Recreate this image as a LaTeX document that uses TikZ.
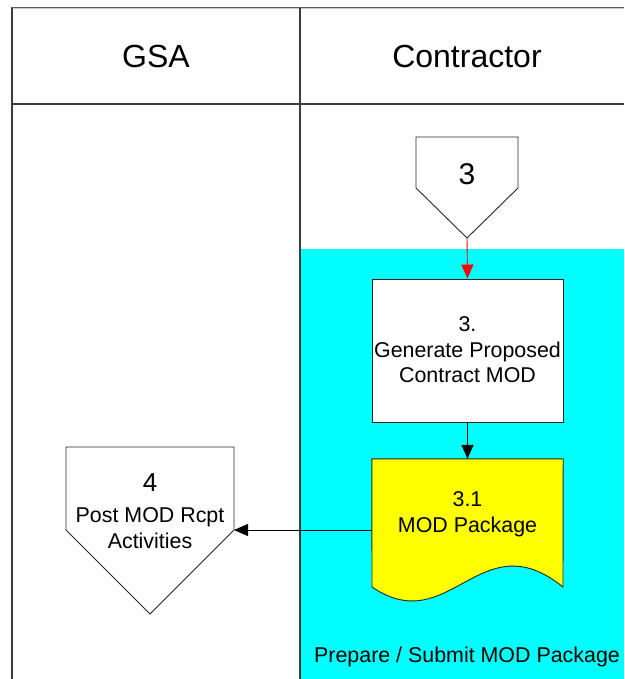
\documentclass[tikz,border=0pt]{standalone}
\usepackage{fontspec}
\setmainfont{Liberation Sans}
\usetikzlibrary{arrows.meta}
\definecolor{lanecyan}{RGB}{0,255,255}
\definecolor{docyellow}{RGB}{255,255,0}
\definecolor{frame}{RGB}{60,60,60}
\tikzset{
  shapeline/.style={draw=black!85, line width=0.9pt},
  frameline/.style={draw=frame, line width=1.8pt},
  hdr/.style={font=\fontsize{32}{38}\selectfont, inner sep=0pt},
  txt/.style={font=\fontsize{21.4}{25.5}\selectfont, align=center, inner sep=0pt},
  flow/.style={line width=0.9pt, -{Triangle[length=14pt,width=12pt]}},
  redflow/.style={flow, draw=red, -{Triangle[length=14pt,width=12pt,fill=red]}},
}
\begin{document}
\begin{tikzpicture}[x=1pt,y=-1pt]
\useasboundingbox (0,0) rectangle (624,679);
% swimlane background
\fill[lanecyan] (300,249) rectangle (624,679);
% frame
\draw[frameline, draw=gray!70!black, line width=2.6pt] (11,8) -- (624,8);
\draw[draw=gray!40, line width=0.6pt] (11,8) -- (624,8);
\draw[frameline] (12,8) -- (12,679);
\draw[frameline] (300,8) -- (300,679);
\draw[frameline, line width=1.4pt] (12,104) -- (624,104);
\node[hdr] (gsa) at (156,56) {GSA};
\node[hdr] (contr) at (467,56) {Contractor};
% off-page connector 3
\draw[shapeline, fill=white] (416,137) -- (518,137) -- (518,188) -- (467,238) -- (416,188) -- cycle;
\coordinate (c3tip) at (467,238);
\node[font=\fontsize{30}{34}\selectfont, inner sep=0pt] (c3) at (467,174) {3};
% process box
\node[shapeline, fill=white, minimum width=191pt, minimum height=143pt, inner sep=0pt] (b3) at (467.5,350.5) {};
\node[txt] (b3t) at (467.5,350) {3.\\Generate Proposed\\Contract MOD};
% document shape
\node[minimum width=191pt, minimum height=128pt, inner sep=0pt] (doc) at (467.5,523) {};
\draw[shapeline, fill=docyellow] (doc.north west) -- (doc.north east) -- (563,587)
  .. controls (480,520) and (450,640) .. (372,587) -- cycle;
\node[txt] (doct) at (467.5,514) {3.1\\MOD Package};
\coordinate (docleft) at (372,530);
% off-page connector 4
\draw[shapeline, fill=white] (66,447) -- (234,447) -- (234,530) -- (150,614) -- (66,530) -- cycle;
\coordinate (c4corner) at (234,530);
\node[font=\fontsize{26}{30}\selectfont, inner sep=0pt] (c4n) at (150,483) {4};
\node[txt] (c4t) at (150,528) {Post MOD Rcpt\\Activities};
% lane label
\node[txt] (lane) at (467,657) {Prepare / Submit MOD Package};
% connectors
\draw[redflow] (c3tip) -- (b3.north);
\draw[flow] (b3.south) -- (doc.north);
\draw[flow] (docleft) -- (c4corner);
\end{tikzpicture}
\end{document}
